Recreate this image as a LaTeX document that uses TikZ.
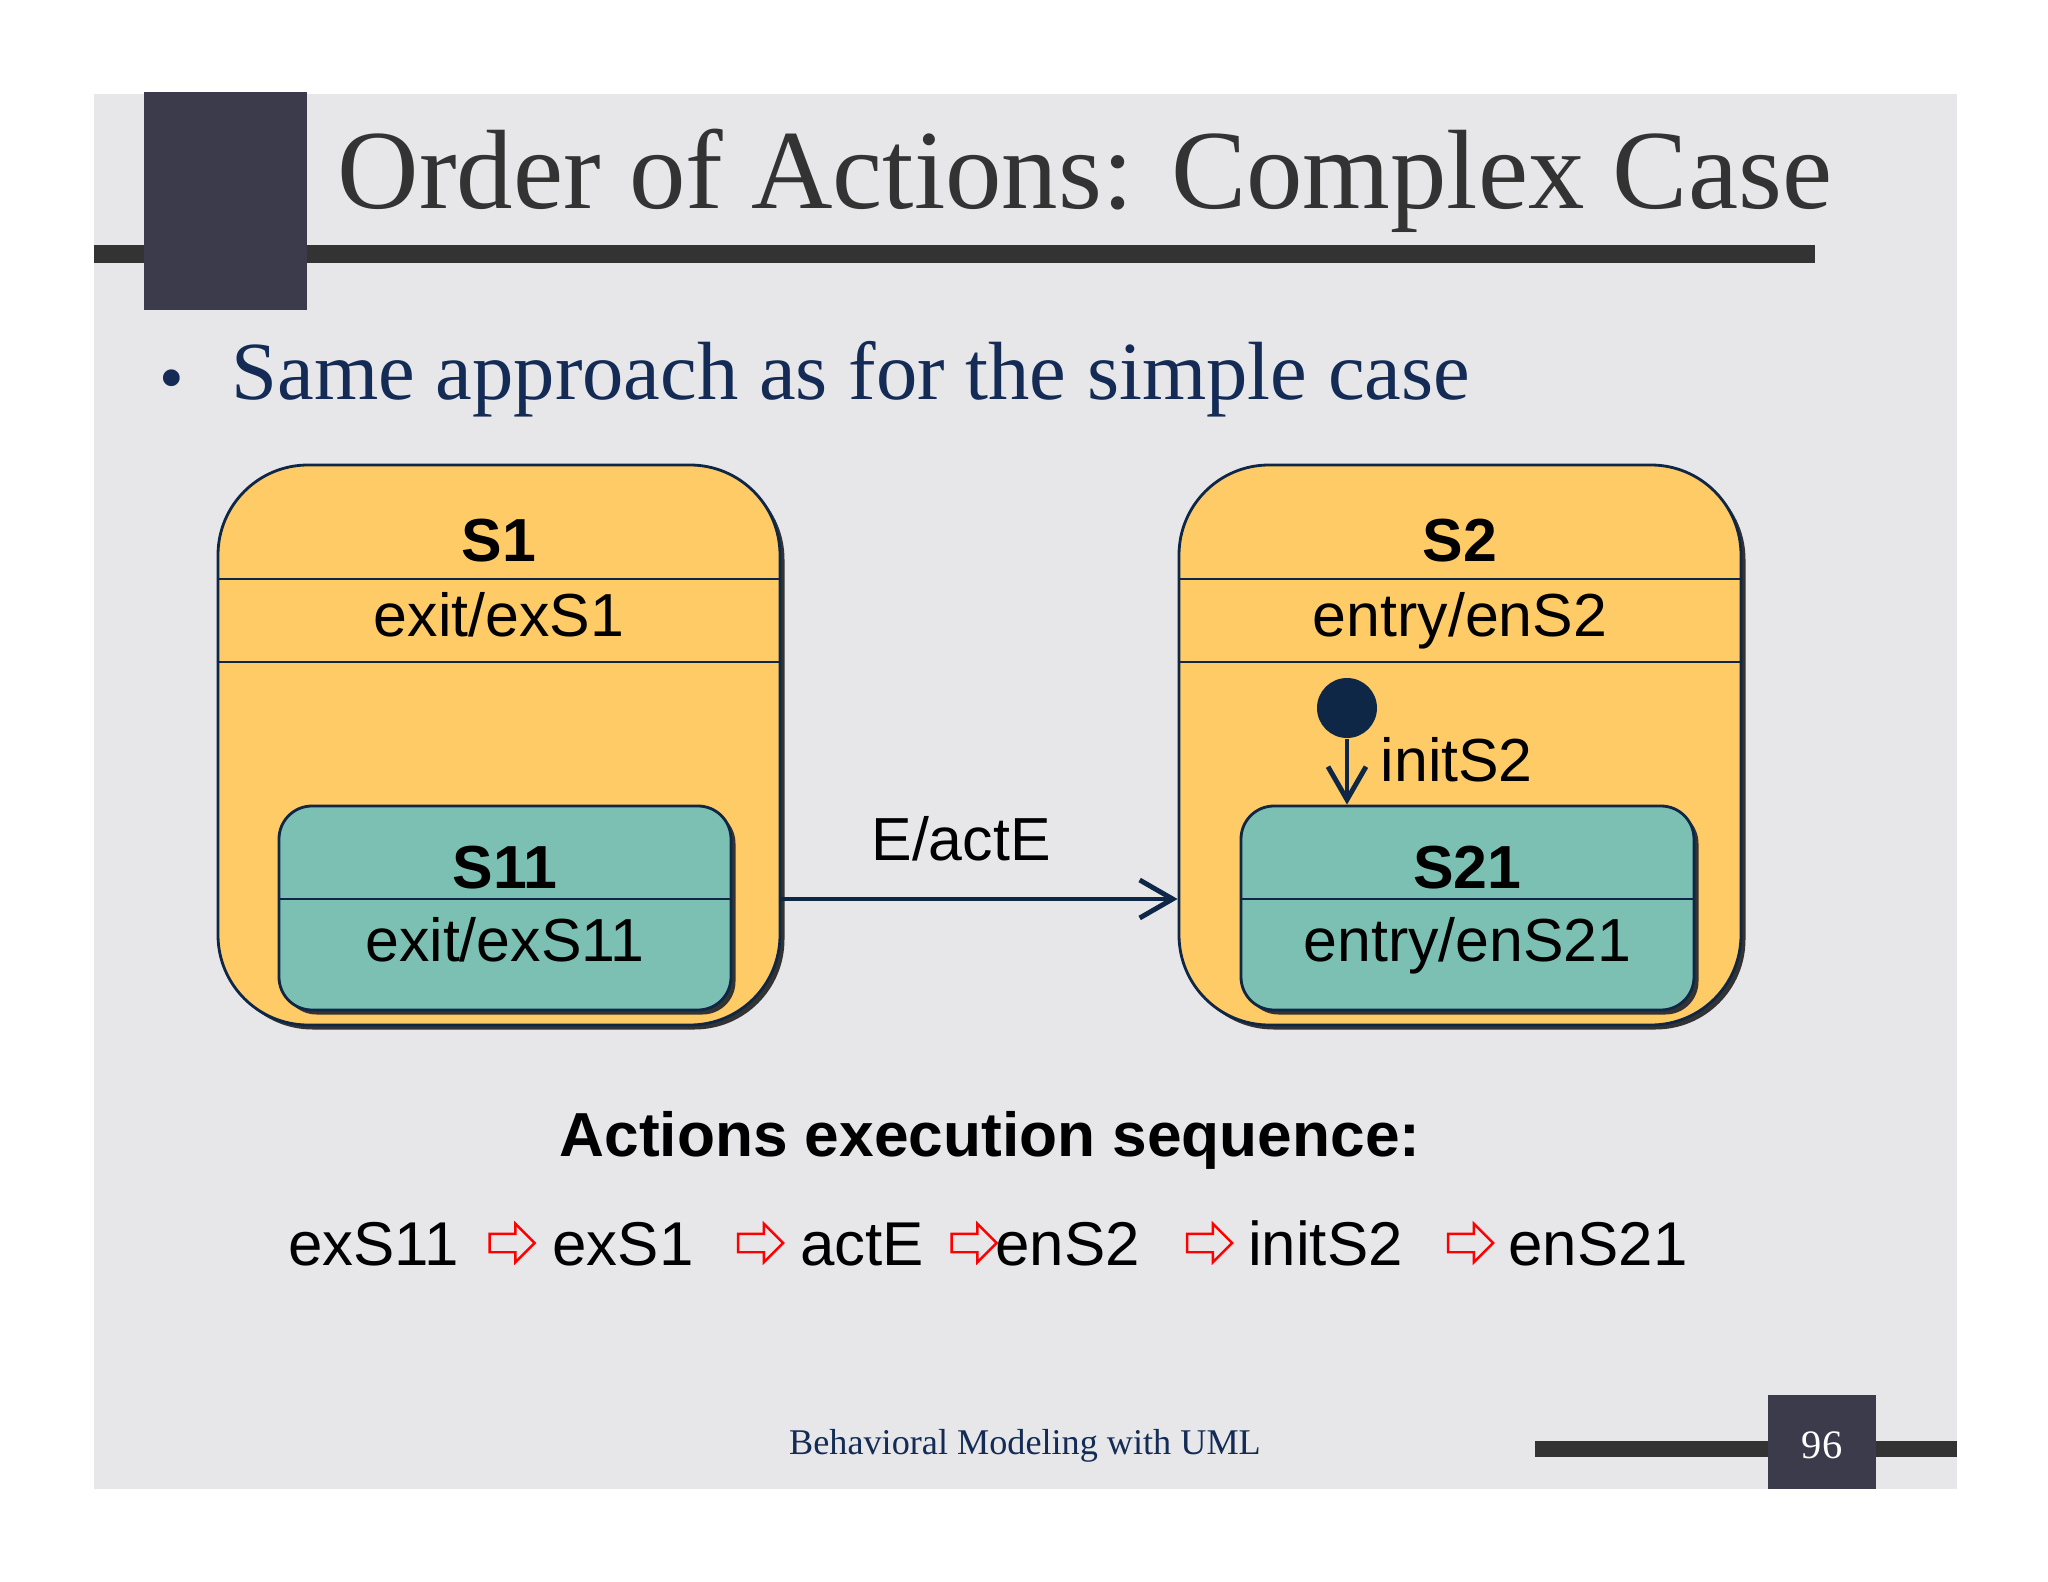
\documentclass[tikz,border=0pt]{standalone}
\usepackage{fontspec}
\setmainfont{Liberation Serif}
\setsansfont{Liberation Sans}
\usepackage{tikz}
\usetikzlibrary{arrows.meta,positioning,shapes.arrows,shadows}

\definecolor{slidegray}{HTML}{E7E7EA}
\definecolor{bardark}{HTML}{333333}
\definecolor{patchdark}{HTML}{3B3B4C}
\definecolor{navytext}{HTML}{132B55}
\definecolor{stateorange}{HTML}{FFCB66}
\definecolor{stateteal}{HTML}{7BC0B3}
\definecolor{edgeblue}{HTML}{0F2747}

\begin{document}
\begin{tikzpicture}[
    superstate/.style={draw=edgeblue, line width=0.8pt, fill=stateorange, rounded corners=0.9cm,
        drop shadow={shadow xshift=0.045cm, shadow yshift=-0.045cm, opacity=1, fill=bardark}},
    substate/.style={superstate, fill=stateteal, rounded corners=0.33cm},
    divider/.style={draw=edgeblue, line width=0.8pt},
    lbl/.style={inner sep=0pt, anchor=base, font=\sffamily\fontsize{17.3}{20}\selectfont},
    statename/.style={lbl, font=\sffamily\bfseries\fontsize{17.3}{20}\selectfont},
    seqword/.style={lbl, font=\sffamily\fontsize{17.6}{20}\selectfont},
    trans/.style={draw=edgeblue, line width=1.4pt, -{Straight Barb[length=0.33cm, width=0.38cm]}},
    seqarrow/.style={single arrow, draw=red, line width=0.7pt, inner sep=0.08cm,
        minimum height=0.45cm, minimum width=0.36cm, single arrow head extend=0.1cm}
]
\useasboundingbox (0,0) rectangle (20.48,-15.82);
\fill[white] (0,0) rectangle (20.48,-15.82);
\fill[slidegray] (0.94,-0.94) rectangle (19.57,-14.89);

% title block
\fill[bardark] (0.94,-2.45) rectangle (18.15,-2.63);
\fill[patchdark] (1.44,-0.92) rectangle (3.07,-3.10);
\node[anchor=base west, inner sep=0pt, text=bardark, font=\fontsize{32.1}{36}\selectfont] (title) at (3.37,-2.09) {Order of Actions: Complex Case};
\node[anchor=base, inner sep=0pt, text=navytext, font=\fontsize{20}{24}\selectfont] (bullet) at (1.72,-4.02) {\textbullet};
\node[anchor=base west, inner sep=0pt, text=navytext, font=\fontsize{23.5}{28}\selectfont] (point) at (2.31,-4.00) {Same approach as for the simple case};

% S1 with nested S11
\node[superstate, minimum width=5.62cm, minimum height=5.60cm] (S1) at (4.99,-7.45) {};
\draw[divider] (S1.west |- 0,-5.79) -- (S1.east |- 0,-5.79);
\draw[divider] (S1.west |- 0,-6.62) -- (S1.east |- 0,-6.62);
\node[statename] (S1name) at (4.99,-5.62) {S1};
\node[lbl] (S1exit) at (4.99,-6.36) {exit/exS1};
\node[substate, minimum width=4.52cm, minimum height=2.04cm] (S11) at (5.05,-9.08) {};
\draw[divider] (S11.west |- 0,-8.99) -- (S11.east |- 0,-8.99);
\node[statename] (S11name) at (5.05,-8.88) {S11};
\node[lbl] (S11exit) at (5.05,-9.62) {exit/exS11};

% S2 with nested S21
\node[superstate, minimum width=5.62cm, minimum height=5.60cm] (S2) at (14.60,-7.45) {};
\draw[divider] (S2.west |- 0,-5.79) -- (S2.east |- 0,-5.79);
\draw[divider] (S2.west |- 0,-6.62) -- (S2.east |- 0,-6.62);
\node[statename] (S2name) at (14.60,-5.62) {S2};
\node[lbl] (S2entry) at (14.60,-6.36) {entry/enS2};
\node[substate, minimum width=4.53cm, minimum height=2.04cm] (S21) at (14.675,-9.08) {};
\draw[divider] (S21.west |- 0,-8.99) -- (S21.east |- 0,-8.99);
\node[statename] (S21name) at (14.675,-8.88) {S21};
\node[lbl] (S21entry) at (14.675,-9.61) {entry/enS21};

% initial pseudostate
\node[circle, fill=edgeblue, inner sep=0pt, minimum size=0.6cm] (init) at (13.47,-7.08) {};
\draw[trans] (init) -- (init |- S21.north);
\node[lbl, anchor=base west] (initlbl) at (13.80,-7.82) {initS2};

% transition
\coordinate (evt) at (S1.east |- 0,-8.99);
\draw[trans] (evt) -- (evt -| S2.west);
\node[lbl] (evtlbl) at (9.61,-8.60) {E/actE};

% sequence
\node[statename, font=\sffamily\bfseries\fontsize{17.7}{20}\selectfont] (seqhead) at (9.90,-11.56) {Actions execution sequence:};
\node[seqword] (a1) at (3.735,-12.65) {exS11};
\node[seqarrow] (r1) at (5.075,-12.43) {};
\node[seqword] (a2) at (6.23,-12.65) {exS1};
\node[seqarrow] (r2) at (7.56,-12.43) {};
\node[seqword] (a3) at (8.62,-12.65) {actE};
\node[seqarrow] (r3) at (9.695,-12.43) {};
\node[seqword] (a4) at (10.675,-12.65) {enS2};
\node[seqarrow] (r4) at (12.05,-12.43) {};
\node[seqword] (a5) at (13.255,-12.65) {initS2};
\node[seqarrow] (r5) at (14.66,-12.43) {};
\node[seqword] (a6) at (15.98,-12.65) {enS21};

% footer
\fill[bardark] (15.35,-14.41) rectangle (19.57,-14.57);
\fill[patchdark] (17.68,-13.95) rectangle (18.76,-14.89);
\node[text=white, font=\fontsize{11.5}{13}\selectfont] (pagenum) at (18.22,-14.45) {96};
\node[text=navytext, font=\fontsize{10.3}{12}\selectfont] (footer) at (10.25,-14.46) {Behavioral Modeling with UML};
\end{tikzpicture}
\end{document}
